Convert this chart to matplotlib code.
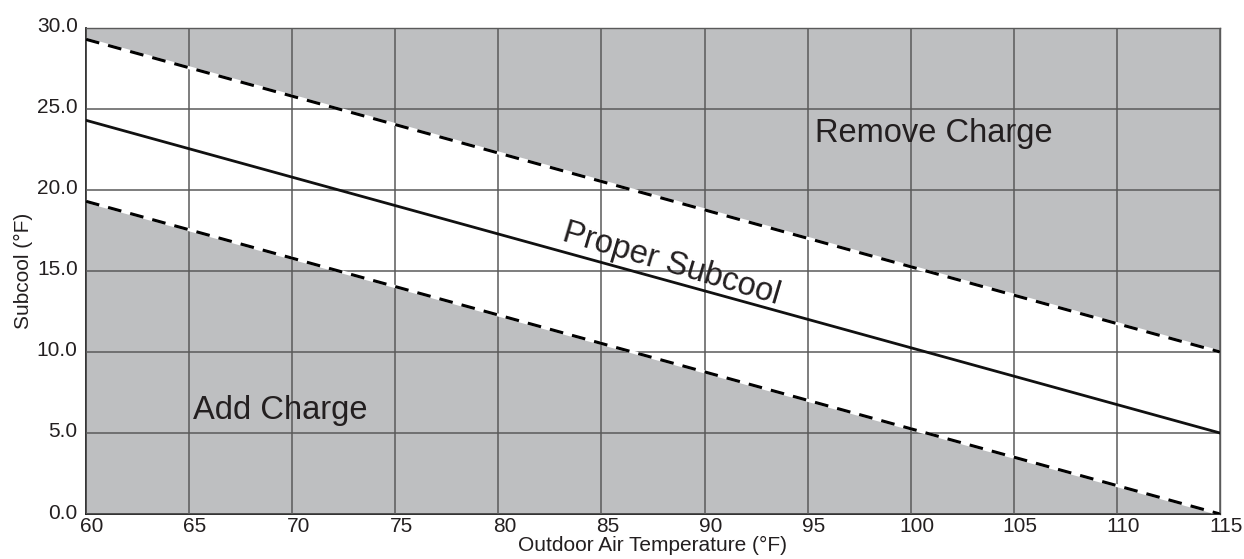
import numpy as np
import matplotlib
matplotlib.use("Agg")
import matplotlib.pyplot as plt
from matplotlib.transforms import ScaledTranslation

plt.rcParams["font.family"] = ["Liberation Sans", "DejaVu Sans"]

# outdoor temperature end points and the subcool targets
temps = [60, 115]
proper_subcool = [24.3, 5.0]
upper_limit = [29.3, 10.0]
lower_limit = [19.3, 0.0]

x_ticks = [60, 65, 70, 75, 80, 85, 90, 95, 100, 105, 110, 115]
y_ticks = [0, 5, 10, 15, 20, 25, 30]

fill_col = "#bebfc1"
grid_col = "#5a5a5a"
txt_col = "#231f20"

fig = plt.figure(figsize=(12.44, 5.59), dpi=100)
ax = fig.add_axes([0.0691, 0.0805, 0.9116, 0.8695])

ax.fill_between(temps, upper_limit, 30, color=fill_col, lw=0, zorder=1)
ax.fill_between(temps, 0, lower_limit, color=fill_col, lw=0, zorder=1)

ax.set_xlim(60, 115)
ax.set_ylim(0, 30)
ax.set_xticks(x_ticks)
ax.set_yticks(y_ticks)
ax.set_xticklabels([str(t) for t in x_ticks])
ax.set_yticklabels([f"{t:.1f}" for t in y_ticks])
ax.grid(True, color=grid_col, lw=1.1, zorder=2)
ax.set_axisbelow(False)
ax.tick_params(length=0, labelsize=15, labelcolor=txt_col)
ax.tick_params(axis="x", pad=2)
ax.tick_params(axis="y", pad=6)

# nudge tick labels a little right / up
dx = ScaledTranslation(6 / 100, 0, fig.dpi_scale_trans)
dy = ScaledTranslation(0, 3 / 100, fig.dpi_scale_trans)
for lbl in ax.get_xticklabels():
    lbl.set_transform(lbl.get_transform() + dx)
for lbl in ax.get_yticklabels():
    lbl.set_transform(lbl.get_transform() + dy)

# limit lines sit on a white stripe so the dash gaps read white
for lim in (upper_limit, lower_limit):
    ax.plot(temps, lim, color="white", lw=2.2, zorder=3, solid_capstyle="butt")
    ax.plot(temps, lim, color="black", lw=2.2, ls=(0, (4.5, 3)), zorder=4)
ax.plot(temps, proper_subcool, color="#111111", lw=2.0, zorder=4)

for side in ("left", "bottom"):
    ax.spines[side].set_color("#222222")
    ax.spines[side].set_linewidth(1.3)
for side in ("top", "right"):
    ax.spines[side].set_color(grid_col)
    ax.spines[side].set_linewidth(1.0)

ax.text(101.1, 23.5, "Remove Charge", fontsize=23.5, color=txt_col, ha="center", va="center", zorder=5)
ax.text(69.4, 6.4, "Add Charge", fontsize=23.5, color=txt_col, ha="center", va="center", zorder=5)
ax.text(88.4, 15.4, "Proper Subcool", fontsize=23.5, color=txt_col, ha="center", va="center",
        rotation=-16.5, rotation_mode="anchor", zorder=5)

ax.set_xlabel("Outdoor Air Temperature (°F)", fontsize=15, color=txt_col, labelpad=0)
ax.set_ylabel("Subcool (°F)", fontsize=15, color=txt_col, labelpad=3)

fig.savefig("out.png", dpi=100)
